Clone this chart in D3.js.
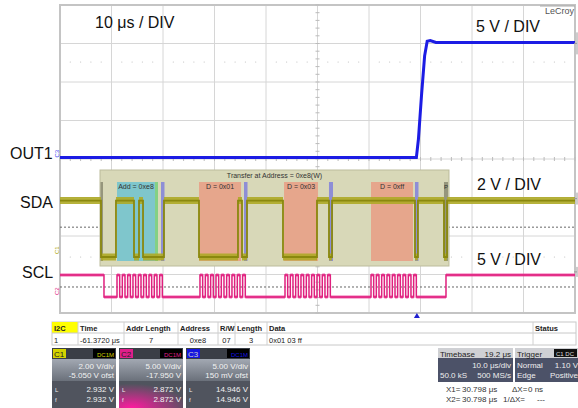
<!DOCTYPE html>
<html>
<head>
<meta charset="utf-8">
<script src="https://cdn.jsdelivr.net/npm/d3@7"></script>
<style>
  body { margin: 0; background: #fff; }
  text { font-family: "Liberation Sans", Arial, sans-serif; }
</style>
</head>
<body>
<div id="scope"></div>
<script>
// time axis in µs (10 µs / div, 10 divisions)
const timeDomain = [0, 100];

// OUT1 (C3), volts
const out1Points = [[0, 0], [69.2, 0], [69.6, 2.4], [70.2, 8.1], [70.8, 13.2], [71.3, 15.1], [71.9, 15.2], [73.0, 14.95], [100, 14.95]];

// SDA (C1), step points [time, volts]
const sdaSteps = [[0, 2.93], [7.96, 0], [10.87, 2.93], [14.37, 0], [15.34, 2.93], [16.12, 0], [20.19, 2.93],
  [26.99, 0], [34.56, 2.93], [35.34, 0], [36.31, 2.93], [43.3, 0], [49.9, 2.93], [52.23, 0], [52.82, 2.93],
  [68.93, 0], [69.5, 2.93], [74.56, 0], [75.15, 2.93], [100, 2.93]];

// SCL (C2): idle levels and clock rising edges per byte
const sclHigh = 2.87;
const sclIdle = [[0, 2.87], [8.54, 0], [74.95, 2.87], [100, 2.87]];
const sclRises = [
  [11.07, 12.1, 13.14, 14.17, 15.21, 16.24, 17.28, 18.31, 19.35],
  [27.18, 28.22, 29.25, 30.29, 31.32, 32.36, 33.39, 34.43, 35.46],
  [43.69, 44.72, 45.76, 46.79, 47.83, 48.86, 49.9, 50.93, 51.97],
  [60.39, 61.42, 62.46, 63.49, 64.53, 65.56, 66.6, 67.63, 68.67]
];
const sclHighTime = 0.52;

const thresholds = { sda: 1.55, scl: 1.3 };

// I2C decode overlay
const decodeFrame = [7.77, 75.53];
const decodeTitle = "Transfer at Address = 0xe8(W)";
const decodeFields = [
  { kind: "mark", t0: 7.86, t1: 8.35, label: "" },
  { kind: "addr", t0: 11.07, t1: 18.45, label: "Add = 0xe8" },
  { kind: "rw", t0: 18.45, t1: 19.03, label: "" },
  { kind: "ack", t0: 19.61, t1: 20.29, label: "" },
  { kind: "data", t0: 26.99, t1: 35.15, label: "D = 0x01" },
  { kind: "ack", t0: 35.73, t1: 36.41, label: "" },
  { kind: "data", t0: 43.5, t1: 50.1, label: "D = 0x03" },
  { kind: "ack", t0: 52.23, t1: 53.01, label: "" },
  { kind: "data", t0: 60.39, t1: 68.54, label: "D = 0xff" },
  { kind: "ack", t0: 68.93, t1: 69.61, label: "" },
  { kind: "mark", t0: 74.56, t1: 75.34, label: "P" }
];
const fieldColor = { mark: "#96967c", addr: "#7fc6cc", rw: "#84d084", ack: "#8e8ed6", data: "#e6a68c" };

const tableHeaders = ["I2C", "Time", "Addr Length", "Address", "R/W", "Length", "Data", "Status"];
const tableRow = ["1", "-61.3720 μs", "7", "0xe8", "07", "3", "0x01 03 ff", ""];

const channels = [
  { name: "C1", color: "#d4d400", text: "#111", lines: ["2.00 V/div", "-5.050 V ofst", "2.932 V", "2.932 V"] },
  { name: "C2", color: "#e0208a", text: "#111", lines: ["5.00 V/div", "-17.950 V", "2.872 V", "2.872 V"] },
  { name: "C3", color: "#1414e0", text: "#1414e0", lines: ["5.00 V/div", "150 mV ofst", "14.946 V", "14.946 V"] }
];
const timebaseInfo = ["Timebase", "19.2 μs", "10.0 μs/div", "50.0 kS", "500 MS/s"];
const triggerInfo = ["Trigger", "Normal", "1.10 V", "Edge", "Positive"];
const cursorInfo = [["X1=", "30.798 μs", "ΔX=", "0 ns"], ["X2=", "30.798 μs", "1/ΔX=", "---"]];

const W = 578, H = 408;
const plot = { left: 60, right: 575, top: 5, bottom: 313 };

const svg = d3.select("#scope").append("svg").attr("width", W).attr("height", H);

const x = d3.scaleLinear().domain(timeDomain).range([plot.left, plot.right]);
const yDiv = d3.scaleLinear().domain([0, 8]).range([plot.top, plot.bottom]);
const yOut = d3.scaleLinear().domain([0, 5]).range([157.5, 157.5 - 38.5]);
const ySda = d3.scaleLinear().domain([0, 2]).range([257, 257 - 38.5]);
const yScl = d3.scaleLinear().domain([0, 5]).range([297, 297 - 38.5]);

// grid
const grid = svg.append("g");
grid.selectAll(".vg").data(d3.range(0, 101, 10)).enter().append("line")
  .attr("x1", d => x(d)).attr("x2", d => x(d))
  .attr("y1", plot.top).attr("y2", plot.bottom)
  .attr("stroke", "#d6d6d6").attr("stroke-width", 1);
grid.selectAll(".hg").data(d3.range(0, 9)).enter().append("line")
  .attr("x1", plot.left).attr("x2", plot.right)
  .attr("y1", d => yDiv(d)).attr("y2", d => yDiv(d))
  .attr("stroke", "#d6d6d6").attr("stroke-width", 1);
grid.append("rect")
  .attr("x", plot.left).attr("y", plot.top)
  .attr("width", plot.right - plot.left).attr("height", plot.bottom - plot.top)
  .attr("fill", "none").attr("stroke", "#c4c4c4").attr("stroke-width", 2);

// minor ticks on centre lines
const minorT = d3.range(0, 100.1, 2);
grid.selectAll(".mt").data(minorT).enter().append("line")
  .attr("x1", d => x(d)).attr("x2", d => x(d))
  .attr("y1", yDiv(4) - 2).attr("y2", yDiv(4) + 2)
  .attr("stroke", "#bbb");
grid.selectAll(".mv").data(d3.range(0, 8.01, 0.2)).enter().append("line")
  .attr("x1", x(50) - 2).attr("x2", x(50) + 2)
  .attr("y1", d => yDiv(d)).attr("y2", d => yDiv(d))
  .attr("stroke", "#bbb");

// light dot rows
[62, 257].forEach(yy => {
  grid.selectAll(null).data(minorT.filter(d => d % 10 !== 0)).enter().append("circle")
    .attr("cx", d => x(d)).attr("cy", yy).attr("r", 0.6).attr("fill", "#bdbdbd");
});

// decoder threshold lines
grid.append("line").attr("x1", plot.left).attr("x2", plot.right)
  .attr("y1", ySda(thresholds.sda)).attr("y2", ySda(thresholds.sda))
  .attr("stroke", "#666").attr("stroke-dasharray", "2,2");
grid.append("line").attr("x1", plot.left).attr("x2", plot.right)
  .attr("y1", yScl(thresholds.scl)).attr("y2", yScl(thresholds.scl))
  .attr("stroke", "#666").attr("stroke-dasharray", "2,2");

// decode overlay
const dec = svg.append("g");
dec.append("rect")
  .attr("x", x(decodeFrame[0])).attr("y", 170)
  .attr("width", x(decodeFrame[1]) - x(decodeFrame[0])).attr("height", 96)
  .attr("fill", "#d8d8b8").attr("stroke", "#bcbc9c").attr("stroke-width", 1);
dec.append("text")
  .attr("x", (x(decodeFrame[0]) + x(decodeFrame[1])) / 2).attr("y", 178)
  .attr("text-anchor", "middle").style("font-size", "7px").attr("fill", "#333")
  .text(decodeTitle);
dec.selectAll(".fld").data(decodeFields).enter().append("rect")
  .attr("x", d => x(d.t0)).attr("y", 182)
  .attr("width", d => x(d.t1) - x(d.t0)).attr("height", 79)
  .attr("fill", d => fieldColor[d.kind]);
dec.selectAll(".fl").data(decodeFields.filter(d => d.label)).enter().append("text")
  .attr("x", d => (x(d.t0) + x(d.t1)) / 2).attr("y", 189)
  .attr("text-anchor", "middle").style("font-size", d => d.kind === "mark" ? "6px" : "7px")
  .attr("fill", "#333").text(d => d.label);

// traces
const stepLine = (ys) => d3.line().x(d => x(d[0])).y(d => ys(d[1])).curve(d3.curveStepAfter);
const levelBands = (pts, ys) => pts.slice(0, -1).map((d, i) => `M${x(d[0])},${ys(d[1])}H${x(pts[i + 1][0])}`).join("");

// SCL
const sclPts = sclIdle.slice();
sclRises.forEach(b => b.forEach(t => { sclPts.push([t, sclHigh]); sclPts.push([t + sclHighTime, 0]); }));
sclPts.sort((a, b) => a[0] - b[0]);
svg.append("path").attr("d", levelBands(sclPts, yScl))
  .attr("fill", "none").attr("stroke", "#ec3c98").attr("stroke-width", 3).attr("opacity", 0.8);
svg.append("path").datum(sclPts).attr("d", stepLine(yScl))
  .attr("fill", "none").attr("stroke", "#e0207e").attr("stroke-width", 1.5);

// SDA
svg.append("path").attr("d", levelBands(sdaSteps, ySda))
  .attr("fill", "none").attr("stroke", "#aeaa26").attr("stroke-width", 7).attr("opacity", 0.9);
svg.append("path").datum(sdaSteps).attr("d", stepLine(ySda))
  .attr("fill", "none").attr("stroke", "#8a880e").attr("stroke-width", 1.8);

// OUT1
svg.append("path").datum(out1Points)
  .attr("d", d3.line().x(d => x(d[0])).y(d => yOut(d[1])))
  .attr("fill", "none").attr("stroke", "#1c1ce4").attr("stroke-width", 3);

// channel ground markers (left) and offset markers (right)
[["C3", yOut(0), "#3a3af0"], ["C1", ySda(0) - 3, "#a8a400"], ["C2", yScl(0) - 2, "#e0207e"]].forEach(([n, yy, c]) => {
  svg.append("text").attr("transform", `translate(${plot.left - 1},${yy}) rotate(-90)`)
    .style("font-size", "6px").attr("fill", c).text(n);
});
[[yOut(14.95) - 10, 22], [ySda(2.93) - 8, 12], [yScl(2.87) - 8, 10]].forEach(([yy, h]) => {
  svg.append("path").attr("d", `M577,${yy}v${h}M577,${yy + h / 2}l-3,0`)
    .attr("stroke", "#999").attr("stroke-width", 1).attr("fill", "none");
});

// trigger position marker
svg.append("path")
  .attr("d", `M${x(69.3)},313l-3,5h6z`).attr("fill", "#2020d0");

// LeCroy logo
svg.append("text").attr("x", 574).attr("y", 14).attr("text-anchor", "end")
  .style("font-size", "9px").attr("fill", "#555").text("LeCroy");
svg.append("path").attr("d", "M540,6H575").attr("stroke", "#aaa");

// big annotations
const big = [["10 μs / DIV", 95, 28], ["5 V / DIV", 476, 32], ["OUT1", 10, 159], ["SDA", 20, 208],
  ["SCL", 22, 278], ["2 V / DIV", 477, 190], ["5 V / DIV", 477, 265]];
svg.selectAll(".big").data(big).enter().append("text")
  .attr("x", d => d[1]).attr("y", d => d[2])
  .style("font-size", "16px").attr("fill", "#111").text(d => d[0]);

// decode table
const colX = [52, 78, 124, 178, 218, 235, 267, 533, 576];
const tb = svg.append("g").style("font-size", "7.5px");
tb.append("rect").attr("x", 52).attr("y", 322).attr("width", 524).attr("height", 23)
  .attr("fill", "#fff").attr("stroke", "#c8c8c8");
tb.append("rect").attr("x", 52).attr("y", 322).attr("width", 26).attr("height", 11).attr("fill", "#ffff00");
tb.append("line").attr("x1", 52).attr("x2", 576).attr("y1", 333).attr("y2", 333).attr("stroke", "#c8c8c8");
tb.selectAll(".cl").data(colX.slice(1, -1)).enter().append("line")
  .attr("x1", d => d).attr("x2", d => d).attr("y1", 322).attr("y2", 345).attr("stroke", "#d0d0d0");
tb.selectAll(".th").data(tableHeaders).enter().append("text")
  .attr("x", (d, i) => colX[i] + 2).attr("y", 331)
  .style("font-weight", "bold").attr("fill", "#222").text(d => d);
tb.selectAll(".td").data(tableRow).enter().append("text")
  .attr("x", (d, i) => (i >= 2 && i <= 5) ? (colX[i] + colX[i + 1]) / 2 : colX[i] + 2)
  .attr("text-anchor", (d, i) => (i >= 2 && i <= 5) ? "middle" : "start")
  .attr("y", 343).attr("fill", "#222").text(d => d);

// channel boxes
const defs = svg.append("defs");
const gBody = defs.append("linearGradient").attr("id", "body").attr("x1", 0).attr("y1", 0).attr("x2", 0).attr("y2", 1);
gBody.append("stop").attr("offset", 0).attr("stop-color", "#a2a8b2");
gBody.append("stop").attr("offset", 1).attr("stop-color", "#6a707a");
const gMag = defs.append("radialGradient").attr("id", "mag").attr("cx", 0.2).attr("cy", 1).attr("r", 0.9);
gMag.append("stop").attr("offset", 0).attr("stop-color", "#ff1aa0");
gMag.append("stop").attr("offset", 1).attr("stop-color", "#50545e");

channels.forEach((c, i) => {
  const bx = 52 + i * 67, g = svg.append("g").style("font-size", "8px");
  g.append("rect").attr("x", bx).attr("y", 348).attr("width", 64).attr("height", 11).attr("fill", "#3a3e46");
  g.append("rect").attr("x", bx).attr("y", 359).attr("width", 64).attr("height", 22).attr("fill", "url(#body)");
  g.append("rect").attr("x", bx).attr("y", 381).attr("width", 64).attr("height", 27)
    .attr("fill", i === 1 ? "url(#mag)" : "#50545e");
  g.append("rect").attr("x", bx + 1).attr("y", 349).attr("width", 13).attr("height", 9).attr("fill", c.color);
  g.append("text").attr("x", bx + 2).attr("y", 357).attr("fill", i === 2 ? "#ccc" : "#222").text(c.name);
  g.append("rect").attr("x", bx + 41).attr("y", 349).attr("width", 22).attr("height", 9).attr("fill", "#000");
  g.append("text").attr("x", bx + 62).attr("y", 356.5).attr("text-anchor", "end")
    .style("font-size", "6px").attr("fill", c.color).text("DC1M");
  [369, 378, 392, 402].forEach((yy, k) => {
    g.append("text").attr("x", bx + 62).attr("y", yy).attr("text-anchor", "end")
      .attr("fill", "#f2f2f2").text(c.lines[k]);
  });
  g.append("text").attr("x", bx + 3).attr("y", 392).style("font-size", "6px").attr("fill", "#eee").text("L");
  g.append("text").attr("x", bx + 3).attr("y", 402).style("font-size", "6px").attr("fill", "#eee").text("f");
});

// timebase / trigger
const tg = svg.append("g").style("font-size", "8px");
tg.append("rect").attr("x", 438).attr("y", 348).attr("width", 75).attr("height", 10).attr("fill", "#cfd0d4");
tg.append("rect").attr("x", 438).attr("y", 358).attr("width", 75).attr("height", 24).attr("fill", "#4c5268");
tg.append("rect").attr("x", 515).attr("y", 348).attr("width", 63).attr("height", 10).attr("fill", "#cfd0d4");
tg.append("rect").attr("x", 515).attr("y", 358).attr("width", 63).attr("height", 24).attr("fill", "#4c5268");
tg.append("text").attr("x", 440).attr("y", 356.5).attr("fill", "#222").text(timebaseInfo[0]);
tg.append("text").attr("x", 511).attr("y", 356.5).attr("text-anchor", "end").attr("fill", "#222").text(timebaseInfo[1]);
tg.append("text").attr("x", 511).attr("y", 368).attr("text-anchor", "end").attr("fill", "#eee").text(timebaseInfo[2]);
tg.append("text").attr("x", 440).attr("y", 378).attr("fill", "#eee").text(timebaseInfo[3]);
tg.append("text").attr("x", 511).attr("y", 378).attr("text-anchor", "end").attr("fill", "#eee").text(timebaseInfo[4]);
tg.append("text").attr("x", 517).attr("y", 356.5).attr("fill", "#222").text(triggerInfo[0]);
tg.append("rect").attr("x", 554).attr("y", 349).attr("width", 23).attr("height", 8).attr("fill", "#111");
tg.append("text").attr("x", 556).attr("y", 356).style("font-size", "6px").attr("fill", "#ddd").text("C1 DC");
tg.append("text").attr("x", 517).attr("y", 368).attr("fill", "#eee").text(triggerInfo[1]);
tg.append("text").attr("x", 578).attr("y", 368).attr("text-anchor", "end").attr("fill", "#eee").text(triggerInfo[2]);
tg.append("text").attr("x", 517).attr("y", 378).attr("fill", "#eee").text(triggerInfo[3]);
tg.append("text").attr("x", 578).attr("y", 378).attr("text-anchor", "end").attr("fill", "#eee").text(triggerInfo[4]);

// cursor readouts
const cxs = [446, 462, 512, 528], cxs2 = [446, 462, 503, 537];
cursorInfo.forEach((row, r) => {
  row.forEach((s, k) => {
    tg.append("text").attr("x", (r === 0 ? cxs : cxs2)[k]).attr("y", 392 + r * 10)
      .attr("fill", "#333").text(s);
  });
});
</script>
</body>
</html>
